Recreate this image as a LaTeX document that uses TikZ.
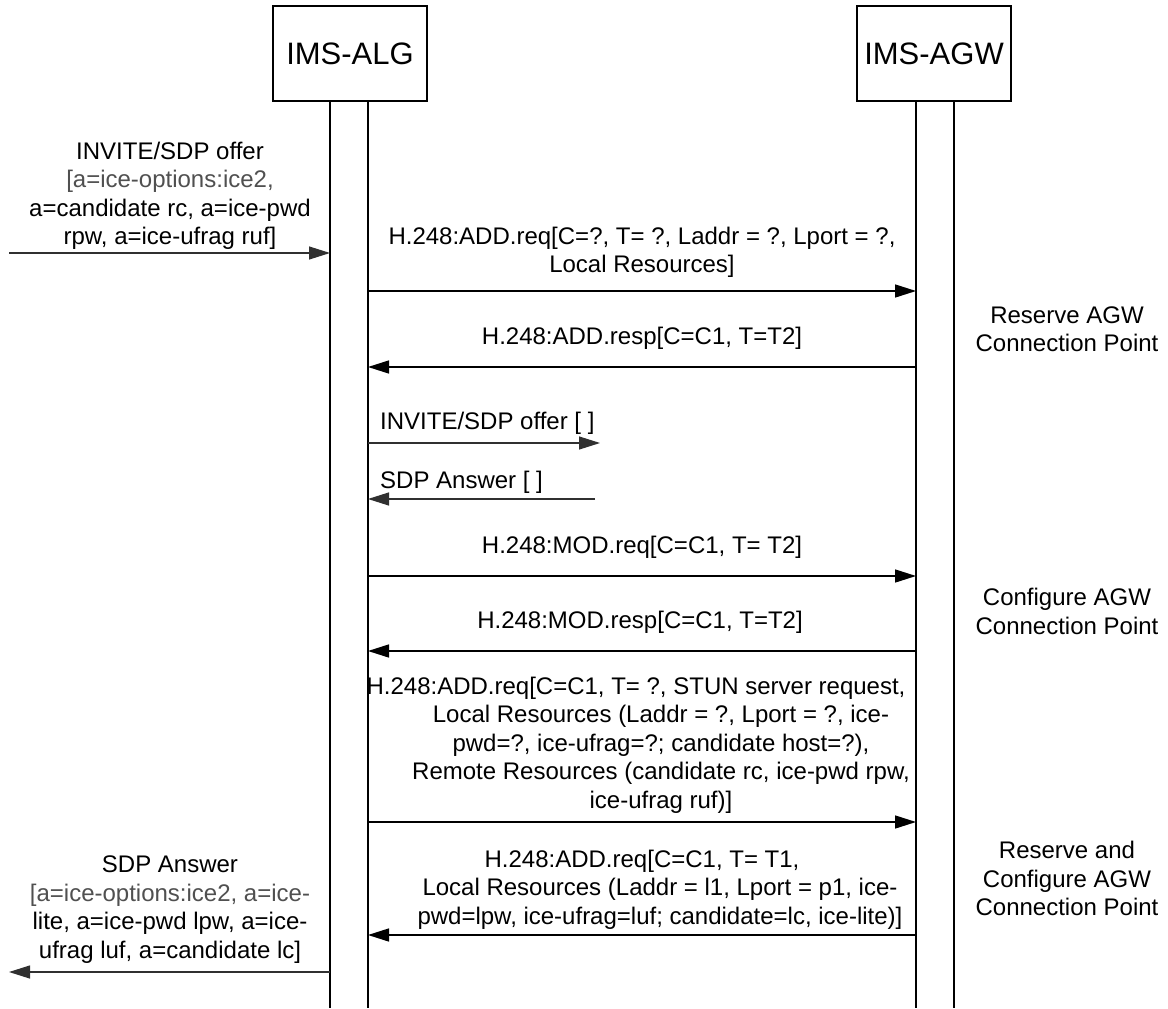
\documentclass[tikz,border=0pt]{standalone}
\usepackage{fontspec}
\setmainfont{Liberation Sans}
\usetikzlibrary{arrows.meta,calc,positioning}
\definecolor{sigInk}{HTML}{000000}
\definecolor{sigGrey}{HTML}{505050}
\definecolor{sigLine}{HTML}{303030}

\begin{document}
\begin{tikzpicture}[x=1pt,y=-1pt,>={Triangle[length=21pt,width=13pt]},line join=miter]
\path[fill=white] (0,0) rectangle (1168,1008);
\tikzset{entity/.style={draw=sigInk,line width=1.5pt,minimum width=154pt,minimum height=95pt,inner sep=0pt,font=\fontsize{31}{37}\selectfont},life/.style={draw=sigInk,line width=1.5pt},msg/.style={draw=sigInk,line width=1.5pt,->},thinmsg/.style={draw=sigLine,line width=1.2pt,->},lbl/.style={font=\fontsize{24}{28.5}\selectfont,align=center,inner sep=0pt,text=sigInk}}
\node[entity] (alg) at (350,53.5) {IMS-ALG}; \node[entity] (agw) at (934,53.5) {IMS-AGW};
\draw[life] (330,101) -- (330,1008); \draw[life] (368,101) -- (368,1008); \draw[life] (916,101) -- (916,1008); \draw[life] (954,101) -- (954,1008);
% offer coming in
\coordinate (inA) at (9,253); \coordinate (inB) at (330,253);
\node[lbl] (inTxt) at (170,196) {INVITE/SDP offer\\\textcolor{sigGrey}{[a=ice-options:ice2,}\\a=candidate rc, a=ice-pwd\\rpw, a=ice-ufrag ruf]};
\draw[thinmsg] (inA) -- (inB);
% reserve
\coordinate (addA) at (368,291); \coordinate (addB) at (916,291); \coordinate (arsA) at (916,367); \coordinate (arsB) at (368,367);
\node[lbl] (addTxt) at (642,252.5) {H.248:ADD.req[C=?, T= ?, Laddr = ?, Lport = ?,\\Local Resources]};
\node[lbl] (arsTxt) at (642,338) {H.248:ADD.resp[C=C1, T=T2]};
\draw[msg] (addA) -- (addB); \draw[msg] (arsA) -- (arsB);
\node[lbl] (resNote) at (1067,329) {Reserve AGW\\Connection Point};
% offer / answer onward
\coordinate (ofA) at (368,443); \coordinate (ofB) at (600,443); \coordinate (anA) at (595,499); \coordinate (anB) at (368,499);
\node[lbl,anchor=west] (ofTxt) at (380,423) {INVITE/SDP offer [ ]}; \node[lbl,anchor=west] (anTxt) at (380,482) {SDP Answer [ ]};
\draw[thinmsg] (ofA) -- (ofB); \draw[thinmsg] (anA) -- (anB);
% configure
\coordinate (modA) at (368,576); \coordinate (modB) at (916,576); \coordinate (mrsA) at (916,651); \coordinate (mrsB) at (368,651);
\node[lbl] (modTxt) at (642,547) {H.248:MOD.req[C=C1, T= T2]}; \node[lbl] (mrsTxt) at (640,622) {H.248:MOD.resp[C=C1, T=T2]};
\draw[msg] (modA) -- (modB); \draw[msg] (mrsA) -- (mrsB);
\node[lbl] (cfgNote) at (1067,611.5) {Configure AGW\\Connection Point};
% stun + ice
\coordinate (stA) at (368,822); \coordinate (stB) at (916,822); \coordinate (icA) at (916,935); \coordinate (icB) at (368,935);
\node[lbl] (stTxt) at (661,745) {H.248:ADD.req[C=C1, T= ?, STUN server request,\hspace*{50pt}\\Local Resources (Laddr = ?, Lport = ?, ice-\\pwd=?, ice-ufrag=?; candidate host=?),\\Remote Resources (candidate rc, ice-pwd rpw,\\ice-ufrag ruf)]};
\node[lbl] (icTxt) at (660,889.5) {H.248:ADD.req[C=C1, T= T1,\hspace*{36pt}\\Local Resources (Laddr = l1, Lport = p1, ice-\\pwd=lpw, ice-ufrag=luf; candidate=lc, ice-lite)]};
\draw[msg] (stA) -- (stB); \draw[msg] (icA) -- (icB);
\node[lbl] (bothNote) at (1067,878.5) {Reserve and\\Configure AGW\\Connection Point};
% answer going back
\coordinate (outA) at (330,972); \coordinate (outB) at (9,972);
\node[lbl] (outTxt) at (170,909.5) {SDP Answer\\\textcolor{sigGrey}{[a=ice-options:ice2, a=ice-}\\lite, a=ice-pwd lpw, a=ice-\\ufrag luf, a=candidate lc]};
\draw[thinmsg] (outA) -- (outB);
\end{tikzpicture}
\end{document}
